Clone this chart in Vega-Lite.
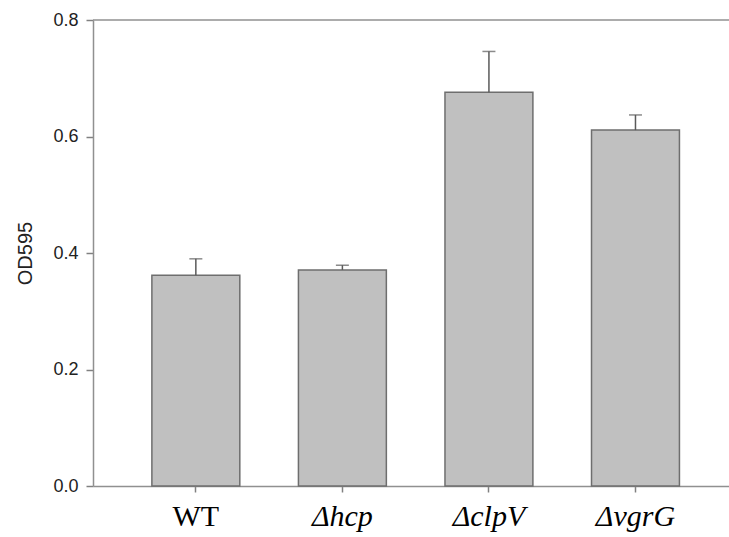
{
  "$schema": "https://vega.github.io/schema/vega-lite/v6.json",
  "width": 636,
  "height": 466,
  "autosize": "none",
  "padding": {"left": 93, "top": 20, "right": 0, "bottom": 51},
  "background": "white",
  "config": {"view": {"stroke": null}},
  "data": {"values": [
    {"strain": "WT", "od": 0.362, "upper": 0.390},
    {"strain": "Δhcp", "od": 0.371, "upper": 0.379},
    {"strain": "ΔclpV", "od": 0.676, "upper": 0.746},
    {"strain": "ΔvgrG", "od": 0.611, "upper": 0.637}
  ]},
  "layer": [
    {
      "mark": {"type": "bar", "fill": "#c0c0c0", "stroke": "#6e6e6e", "strokeWidth": 1.5},
      "encoding": {
        "x": {
          "field": "strain", "type": "nominal", "sort": null,
          "scale": {"paddingInner": 0.4, "paddingOuter": 0.37, "align": 0.543},
          "axis": {
            "title": null, "labelAngle": 0,
            "labelFont": "Liberation Serif", "labelFontSize": 30, "labelColor": "#000000",
            "labelFontStyle": {"condition": {"test": "datum.value == 'WT'", "value": "normal"}, "value": "italic"},
            "labelPadding": 9, "tickSize": 6, "tickColor": "#808080", "tickWidth": 1.5,
            "domainColor": "#909090", "domainWidth": 1.5
          }
        },
        "y": {
          "field": "od", "type": "quantitative",
          "scale": {"domain": [0, 0.8], "nice": false},
          "axis": {
            "title": "OD595", "titleFont": "Liberation Sans", "titleFontSize": 20, "titleFontWeight": "normal",
            "titleColor": "#222222", "titlePadding": 17,
            "values": [0, 0.2, 0.4, 0.6, 0.8], "format": ".1f", "grid": false,
            "labelFont": "Liberation Sans", "labelFontSize": 18, "labelColor": "#222222", "labelPadding": 8,
            "tickSize": 7, "tickColor": "#808080", "tickWidth": 1.5,
            "domainColor": "#909090", "domainWidth": 1.5
          }
        }
      }
    },
    {
      "mark": {"type": "rule", "color": "#5a5a5a", "strokeWidth": 1.5},
      "encoding": {
        "x": {"field": "strain", "type": "nominal", "sort": null},
        "y": {"field": "od", "type": "quantitative"},
        "y2": {"field": "upper"}
      }
    },
    {
      "mark": {"type": "tick", "color": "#5a5a5a", "size": 13, "thickness": 1.5},
      "encoding": {
        "x": {"field": "strain", "type": "nominal", "sort": null},
        "y": {"field": "upper", "type": "quantitative"}
      }
    },
    {
      "data": {"values": [{"top": 0.8}]},
      "mark": {"type": "rule", "color": "#909090", "strokeWidth": 1.5},
      "encoding": {
        "y": {"field": "top", "type": "quantitative"}
      }
    }
  ]
}
